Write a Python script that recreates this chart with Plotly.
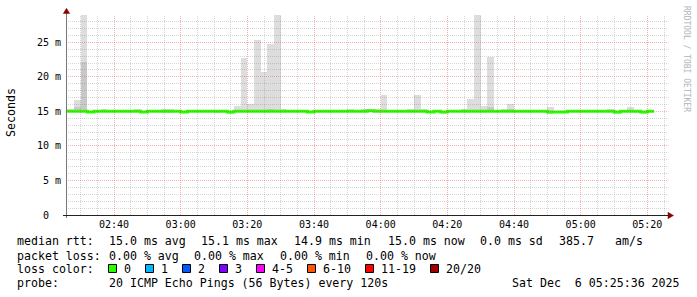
import math
import pandas as pd
import plotly.graph_objects as go

# ---------------- data ----------------
# 2-minute RRD steps; each value covers [slot_start, slot_start + 2 min)
slot_start = pd.date_range("2025-12-06 02:24:00", periods=89, freq="2min")

median_ms = [
    15.0, 15.0, 15.0, 15.0, 14.9, 15.0, 15.0, 15.0, 15.0, 15.0,
    15.0, 15.0, 14.9, 15.0, 15.0, 15.0, 15.0, 15.0, 14.9, 15.0,
    15.0, 15.0, 15.0, 15.0, 15.0, 14.9, 15.0, 15.0, 15.0, 15.0,
    15.0, 15.0, 15.0, 15.0, 15.0, 15.0, 15.0, 14.9, 15.0, 15.0,
    15.0, 15.0, 15.0, 15.0, 15.0, 15.0, 15.1, 15.0, 15.0, 15.0,
    15.0, 15.0, 15.0, 15.0, 15.0, 14.9, 15.0, 14.9, 15.0, 15.0,
    15.0, 15.0, 15.0, 15.0, 15.0, 15.0, 15.0, 15.0, 15.0, 15.0,
    15.0, 15.0, 15.0, 14.9, 14.9, 14.9, 15.0, 15.0, 15.0, 15.0,
    15.0, 15.0, 15.0, 14.9, 15.0, 15.0, 15.0, 14.9, 15.0,
]
smoke_lo_ms = [
    15.0, 15.0, 15.0, 15.0, 14.9, 15.0, 15.0, 15.0, 15.0, 15.0,
    15.0, 15.0, 14.9, 15.0, 15.0, 14.8, 14.8, 15.0, 14.9, 15.0,
    15.0, 15.0, 15.0, 14.7, 15.0, 14.6, 15.0, 15.0, 15.0, 15.0,
    15.0, 15.0, 15.0, 15.0, 15.0, 15.0, 15.0, 14.9, 15.0, 15.0,
    15.0, 15.0, 15.0, 15.0, 15.0, 15.0, 15.1, 15.0, 15.0, 15.0,
    15.0, 15.0, 15.0, 15.0, 15.0, 14.9, 15.0, 14.6, 15.0, 15.0,
    15.0, 15.0, 15.0, 15.0, 15.0, 15.0, 15.0, 15.0, 15.0, 15.0,
    15.0, 15.0, 15.0, 14.6, 14.9, 14.9, 15.0, 15.0, 15.0, 15.0,
    15.0, 15.0, 15.0, 14.7, 15.0, 15.0, 14.7, 14.6, 15.0,
]
smoke_hi_ms = [
    15.3, 15.3, 16.6, 29.5, 14.9, 15.0, 15.3, 15.0, 15.0, 15.0,
    15.0, 15.3, 14.9, 15.0, 15.0, 15.3, 15.3, 15.0, 14.9, 15.0,
    15.0, 15.0, 15.0, 15.0, 15.0, 14.9, 15.75, 22.7, 16.0, 25.3,
    20.7, 24.7, 29.5, 15.4, 15.0, 15.0, 15.0, 14.9, 15.0, 15.0,
    15.0, 15.0, 15.0, 15.3, 15.0, 15.3, 15.4, 15.3, 17.3, 15.0,
    15.0, 15.0, 15.3, 17.3, 15.3, 14.9, 15.0, 14.9, 15.0, 15.0,
    15.3, 16.8, 29.5, 15.75, 22.9, 15.0, 15.3, 16.0, 15.0, 15.0,
    15.0, 15.0, 15.0, 15.6, 14.9, 14.9, 15.0, 15.0, 15.0, 15.25,
    15.0, 15.0, 15.3, 14.9, 15.0, 15.6, 15.0, 14.9, 15.0,
]
dense_hi_ms = [
    15.0, 15.0, 15.6, 22.2, 14.9, 15.0, 15.0, 15.0, 15.0, 15.0,
    15.0, 15.0, 14.9, 15.0, 15.0, 15.0, 15.0, 15.0, 14.9, 15.0,
    15.0, 15.0, 15.0, 15.0, 15.0, 14.9, 15.0, 15.0, 15.0, 15.0,
    15.0, 15.4, 15.0, 15.0, 15.0, 15.0, 15.0, 14.9, 15.0, 15.0,
    15.0, 15.0, 15.0, 15.0, 15.0, 15.0, 15.1, 15.0, 15.0, 15.0,
    15.0, 15.0, 15.0, 15.0, 15.0, 14.9, 15.0, 14.9, 15.0, 15.0,
    15.0, 15.0, 15.0, 15.0, 15.6, 15.0, 15.0, 15.3, 15.0, 15.0,
    15.0, 15.0, 15.0, 14.9, 14.9, 14.9, 15.0, 15.0, 15.0, 15.0,
    15.0, 15.0, 15.0, 14.9, 15.0, 15.0, 15.0, 14.9, 15.0,
]

y_ticks = [0, 5, 10, 15, 20, 25]
y_tick_text = ["0\u00a0\u00a0", "5 m", "10 m", "15 m", "20 m", "25 m"]
x_ticks = list(pd.date_range("2025-12-06 02:40", "2025-12-06 05:20", freq="20min"))
x_tick_text = [t.strftime("%H:%M") for t in x_ticks]

rtt_stats = ["median rtt:", "15.0 ms avg", "15.1 ms max", "14.9 ms min",
             "15.0 ms now", "0.0 ms sd", "385.7", "am/s"]
loss_stats = ["packet loss:", "0.00 % avg", "0.00 % max", "0.00 % min", "0.00 % now"]
loss_labels = ["0", "1", "2", "3", "4-5", "6-10", "11-19", "20/20"]
loss_colors = ["#26ff00", "#00b8ff", "#0059ff", "#7e00ff", "#ff00ff",
               "#ff5500", "#ff0000", "#a10000"]
probe_text = "20 ICMP Echo Pings (56 Bytes) every 120s"
stamp_text = "Sat Dec\u00a0 6 05:25:36 2025"

# ---------------- geometry ----------------
W, H = 697, 297
PL, PT, PW, PH = 66, 15, 600, 200
t_start = pd.Timestamp("2025-12-06 02:25:36")
t_end = t_start + pd.Timedelta(hours=3)
Y_MAX = 28.95
MONO = "DejaVu Sans Mono"

def px_x(p):
    return (p - PL) / PW

def px_y(p):
    return (PT + PH - p) / PH

step = pd.Timedelta("2min")
centers = slot_start + step / 2

fig = go.Figure()
fig.add_trace(go.Bar(
    x=centers, base=smoke_lo_ms,
    y=[h - l for h, l in zip(smoke_hi_ms, smoke_lo_ms)],
    width=step.total_seconds() * 1000,
    marker=dict(color="#dddddd", line=dict(width=0)),
    hoverinfo="skip", showlegend=False,
))
fig.add_trace(go.Bar(
    x=centers, base=median_ms,
    y=[max(d - m, 0) for d, m in zip(dense_hi_ms, median_ms)],
    width=step.total_seconds() * 1000,
    marker=dict(color="#c8c8c8", line=dict(width=0)),
    hoverinfo="skip", showlegend=False,
))
fig.add_trace(go.Scatter(
    x=list(slot_start) + [slot_start[-1] + step],
    y=median_ms + [median_ms[-1]],
    mode="lines", line=dict(color="#26ff00", width=3, shape="hv"),
    hoverinfo="skip", showlegend=False,
))

shapes = []
span_s = (t_end - t_start).total_seconds()

def grid_x(t, color):
    p = PL + (t - t_start).total_seconds() / span_s * PW
    p = math.floor(p) + 0.5
    shapes.append(dict(type="line", xref="paper", yref="paper",
                       x0=px_x(p), x1=px_x(p), y0=0, y1=1, layer="above",
                       line=dict(color=color, width=1, dash="1px,1px")))

def grid_y(v, color):
    p = PT + PH - v / Y_MAX * PH
    p = math.floor(p) + 0.5
    shapes.append(dict(type="line", xref="paper", yref="paper",
                       x0=0, x1=1.004, y0=px_y(p), y1=px_y(p), layer="above",
                       line=dict(color=color, width=1, dash="1px,1px")))

MINOR = "rgba(120,120,120,0.30)"
MAJOR = "rgba(235,60,60,0.40)"
for t in pd.date_range("2025-12-06 02:30", "2025-12-06 05:25", freq="5min"):
    if t not in x_ticks:
        grid_x(t, MINOR)
for v in range(1, 29):
    if v % 5:
        grid_y(v, MINOR)
for t in x_ticks:
    grid_x(t, MAJOR)
for v in y_ticks[1:]:
    grid_y(v, MAJOR)

# axes lines and arrows
shapes.append(dict(type="line", xref="paper", yref="paper", layer="above",
                   x0=px_x(66.5), x1=px_x(66.5), y0=px_y(218), y1=px_y(12),
                   line=dict(color="#777777", width=1)))
shapes.append(dict(type="line", xref="paper", yref="paper", layer="above",
                   x0=px_x(63), x1=px_x(669), y0=px_y(215.5), y1=px_y(215.5),
                   line=dict(color="#222222", width=1)))
ARROW = "#8b0000"
shapes.append(dict(type="path", xref="paper", yref="paper", layer="above",
                   path=f"M {px_x(668)} {px_y(212.3)} L {px_x(673.5)} {px_y(215.5)} "
                        f"L {px_x(668)} {px_y(218.7)} Z",
                   fillcolor=ARROW, line=dict(color=ARROW, width=0.5)))
shapes.append(dict(type="path", xref="paper", yref="paper", layer="above",
                   path=f"M {px_x(63.3)} {px_y(13.5)} L {px_x(66.5)} {px_y(8.3)} "
                        f"L {px_x(69.7)} {px_y(13.5)} Z",
                   fillcolor=ARROW, line=dict(color=ARROW, width=0.5)))

annotations = []

def text(s, x, y, anchor="left", size=11.6, color="#000000", angle=0):
    annotations.append(dict(text=s, x=px_x(x), y=px_y(y), xref="paper", yref="paper",
                            xanchor=anchor, yanchor="middle", showarrow=False,
                            borderpad=0, textangle=angle,
                            font=dict(family=MONO, size=size, color=color)))

ROW1, ROW2, ROW3, ROW4 = 241, 255.5, 269, 283
for s, x in zip(rtt_stats, [16, 107.6, 200, 293, 386.7, 479, 558, 614]):
    text(s, x, ROW1)
for s, x in zip(loss_stats, [16, 107.6, 193, 279, 365]):
    text(s, x, ROW2)
text("loss color:", 16, ROW3)
bx = 108
for lab, col in zip(loss_labels, loss_colors):
    shapes.append(dict(type="rect", xref="paper", yref="paper", layer="above",
                       x0=px_x(bx + 0.5), x1=px_x(bx + 8.5),
                       y0=px_y(ROW3 - 4.5), y1=px_y(ROW3 + 3.5),
                       fillcolor=col, line=dict(color="#000000", width=1)))
    text(lab, bx + 15, ROW3)
    bx += 37 + (len(lab) - 1) * 7
text("probe:", 16, ROW4)
text(probe_text, 107.6, ROW4)
text(stamp_text, 681, ROW4, anchor="right")
text("Seconds", 11, 113, anchor="center", angle=-90)
text("RRDTOOL / TOBI OETIKER", 686, 59, anchor="center", size=8,
     color="#b4b4b4", angle=90)

fig.update_layout(
    width=W, height=H,
    margin=dict(l=PL, r=W - PL - PW, t=PT, b=H - PT - PH),
    paper_bgcolor="#ffffff", plot_bgcolor="#ffffff",
    barmode="overlay", bargap=0,
    shapes=shapes, annotations=annotations,
    xaxis=dict(type="date", range=[t_start, t_end], showgrid=False, zeroline=False,
               showline=False, tickvals=x_ticks, ticktext=x_tick_text, ticks="",
               ticklabelstandoff=2,
               tickfont=dict(family=MONO, size=10, color="#000000"),
               fixedrange=True),
    yaxis=dict(range=[0, Y_MAX], showgrid=False, zeroline=False, showline=False,
               tickvals=y_ticks, ticktext=y_tick_text, ticks="",
               ticklabelstandoff=4,
               tickfont=dict(family=MONO, size=10, color="#000000"),
               fixedrange=True),
)

fig.write_html("out.html", config={"displayModeBar": False})
